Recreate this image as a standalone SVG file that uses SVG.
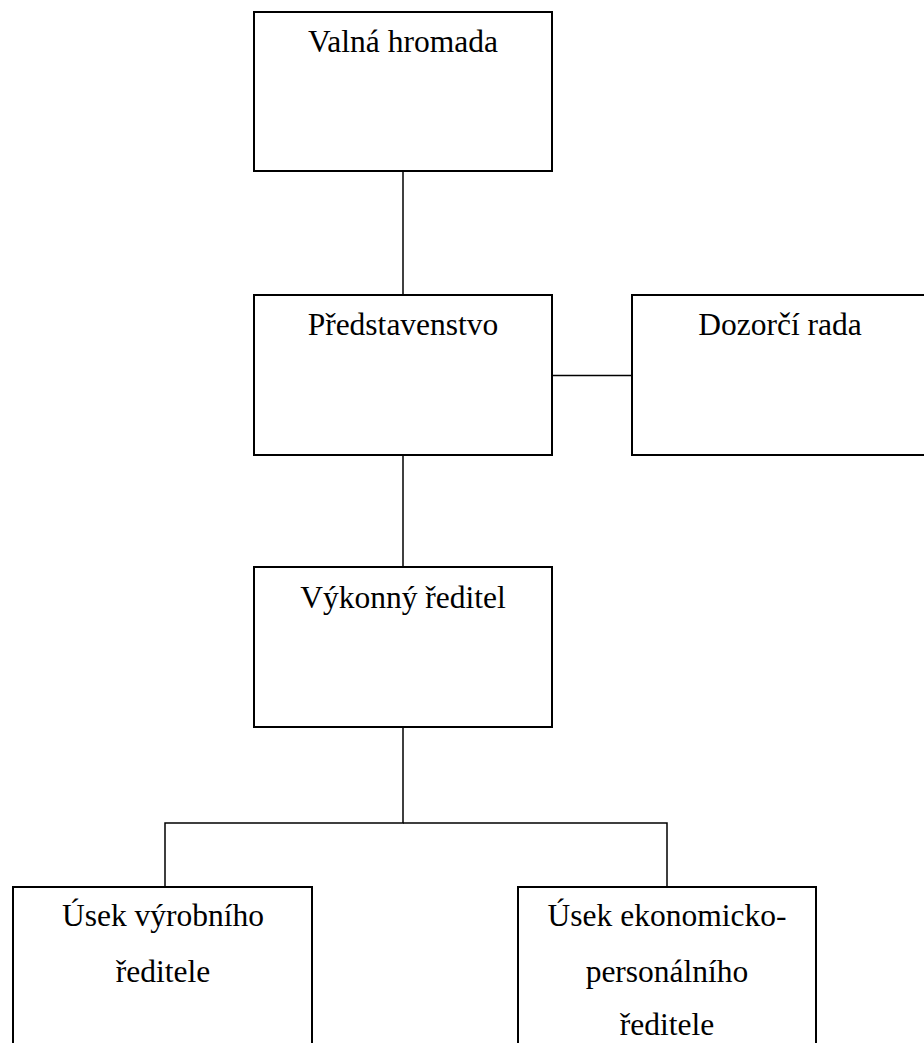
<svg xmlns="http://www.w3.org/2000/svg" width="924" height="1043" viewBox="0 0 924 1043">
<style>
.box{fill:#fff;stroke:#000;stroke-width:2}
.conn{fill:none;stroke:#000;stroke-width:1.5}
.lbl{font-family:"Liberation Serif","Times New Roman",serif;font-size:31.5px;fill:#000;text-anchor:middle}
</style>
<rect width="924" height="1043" fill="#fff"/>
<g id="connectors">
<line class="conn" x1="403" y1="171" x2="403" y2="295"/>
<line class="conn" x1="552" y1="375.5" x2="632" y2="375.5"/>
<line class="conn" x1="403" y1="455" x2="403" y2="567"/>
<polyline class="conn" points="403,727 403,823 165,823 165,887"/>
<polyline class="conn" points="403,823 667,823 667,887"/>
</g>
<g id="valna-hromada">
<rect class="box" x="254" y="12" width="298" height="159"/>
<text class="lbl" x="403" y="52">Valná hromada</text>
</g>
<g id="predstavenstvo">
<rect class="box" x="254" y="295" width="298" height="160"/>
<text class="lbl" x="403" y="335">Představenstvo</text>
</g>
<g id="dozorci-rada">
<rect class="box" x="632" y="295" width="297" height="160"/>
<text class="lbl" x="780" y="335">Dozorčí rada</text>
</g>
<g id="vykonny-reditel">
<rect class="box" x="254" y="567" width="298" height="160"/>
<text class="lbl" x="403" y="608">Výkonný ředitel</text>
</g>
<g id="usek-vyrobniho">
<rect class="box" x="13" y="887" width="299" height="200"/>
<text class="lbl" x="163" y="926">Úsek výrobního</text>
<text class="lbl" x="163" y="982">ředitele</text>
</g>
<g id="usek-ekonomicko">
<rect class="box" x="518" y="887" width="298" height="200"/>
<text class="lbl" x="667" y="926">Úsek ekonomicko-</text>
<text class="lbl" x="667" y="982">personálního</text>
<text class="lbl" x="667" y="1035">ředitele</text>
</g>
</svg>
